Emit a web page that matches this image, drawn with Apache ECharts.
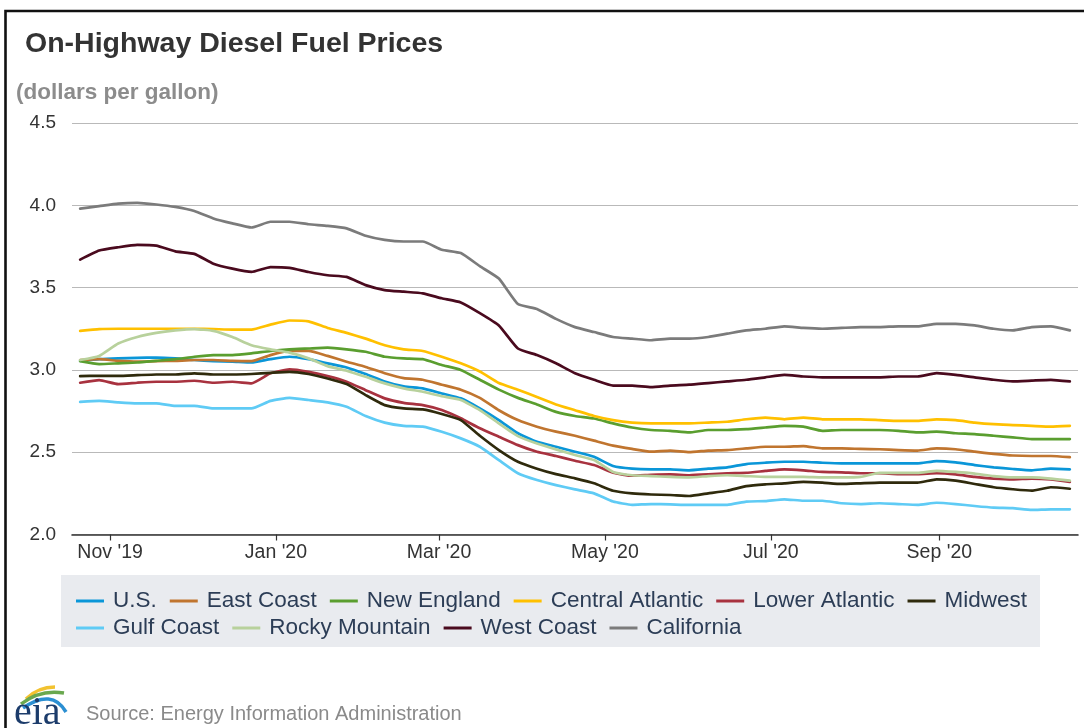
<!DOCTYPE html>
<html>
<head>
<meta charset="utf-8">
<script src="https://cdn.jsdelivr.net/npm/echarts@6/dist/echarts.min.js"></script>
<style>
html,body{margin:0;padding:0;background:#fff;}
#chart{width:1084px;height:728px;}
</style>
</head>
<body>
<div id="chart"></div>
<script>
// ---- data (weekly, dollars per gallon) ----
const dates = ['2019-10-21','2019-10-28','2019-11-04','2019-11-11','2019-11-18','2019-11-25','2019-12-02','2019-12-09','2019-12-16','2019-12-23','2019-12-30',
'2020-01-06','2020-01-13','2020-01-20','2020-01-27','2020-02-03','2020-02-10','2020-02-17','2020-02-24','2020-03-02','2020-03-09','2020-03-16','2020-03-23','2020-03-30',
'2020-04-06','2020-04-13','2020-04-20','2020-04-27','2020-05-04','2020-05-11','2020-05-18','2020-05-25','2020-06-01','2020-06-08','2020-06-15','2020-06-22','2020-06-29',
'2020-07-06','2020-07-13','2020-07-20','2020-07-27','2020-08-03','2020-08-10','2020-08-17','2020-08-24','2020-08-31','2020-09-07','2020-09-14','2020-09-21','2020-09-28',
'2020-10-05','2020-10-12','2020-10-19'];

const us = [3.055,3.065,3.07,3.073,3.075,3.07,3.06,3.053,3.05,3.045,3.065,3.08,3.065,3.04,3.015,2.975,2.93,2.90,2.888,2.857,2.827,2.766,2.695,2.615,2.563,2.533,2.503,2.472,2.416,2.40,2.396,2.396,2.39,2.40,2.408,2.428,2.436,2.442,2.442,2.436,2.432,2.432,2.432,2.432,2.432,2.446,2.438,2.422,2.408,2.398,2.39,2.40,2.396];
const eastCoast = [3.06,3.065,3.055,3.05,3.053,3.055,3.06,3.06,3.055,3.053,3.09,3.115,3.115,3.085,3.05,3.018,2.98,2.95,2.94,2.91,2.88,2.83,2.755,2.695,2.655,2.625,2.60,2.57,2.54,2.52,2.503,2.51,2.50,2.51,2.513,2.523,2.533,2.533,2.537,2.523,2.523,2.52,2.518,2.513,2.51,2.523,2.518,2.503,2.49,2.48,2.477,2.477,2.47];
const newEngland = [3.053,3.035,3.04,3.045,3.055,3.065,3.08,3.09,3.09,3.10,3.115,3.125,3.13,3.135,3.125,3.11,3.08,3.07,3.065,3.03,3.00,2.94,2.88,2.83,2.79,2.745,2.72,2.705,2.675,2.65,2.635,2.63,2.62,2.635,2.635,2.64,2.65,2.66,2.655,2.63,2.635,2.635,2.635,2.63,2.62,2.625,2.615,2.61,2.60,2.59,2.58,2.58,2.58];
const centralAtlantic = [3.237,3.248,3.25,3.25,3.25,3.25,3.25,3.248,3.245,3.245,3.275,3.30,3.295,3.255,3.225,3.19,3.15,3.125,3.115,3.08,3.04,2.99,2.92,2.88,2.835,2.79,2.755,2.72,2.695,2.68,2.675,2.675,2.675,2.68,2.685,2.70,2.71,2.70,2.71,2.70,2.70,2.70,2.695,2.69,2.69,2.70,2.695,2.68,2.67,2.665,2.66,2.655,2.66];
const lowerAtlantic = [2.922,2.938,2.914,2.922,2.928,2.928,2.934,2.922,2.928,2.918,2.979,3.003,2.988,2.962,2.928,2.877,2.827,2.80,2.786,2.756,2.706,2.645,2.594,2.543,2.503,2.477,2.448,2.422,2.375,2.357,2.362,2.365,2.36,2.365,2.372,2.375,2.386,2.396,2.39,2.38,2.378,2.372,2.372,2.367,2.367,2.372,2.365,2.35,2.34,2.335,2.34,2.335,2.32];
const midwest = [2.962,2.964,2.964,2.968,2.972,2.972,2.979,2.972,2.972,2.975,2.982,2.988,2.975,2.948,2.914,2.847,2.786,2.766,2.76,2.732,2.695,2.60,2.513,2.442,2.40,2.367,2.341,2.311,2.266,2.25,2.243,2.24,2.234,2.25,2.266,2.294,2.305,2.311,2.32,2.315,2.307,2.311,2.315,2.315,2.315,2.335,2.327,2.307,2.287,2.275,2.266,2.287,2.278];
const gulfCoast = [2.806,2.812,2.803,2.797,2.797,2.782,2.782,2.766,2.766,2.766,2.812,2.83,2.817,2.803,2.776,2.72,2.68,2.66,2.655,2.624,2.584,2.533,2.452,2.372,2.331,2.30,2.274,2.25,2.20,2.18,2.185,2.183,2.18,2.18,2.18,2.20,2.203,2.214,2.205,2.205,2.19,2.185,2.19,2.185,2.18,2.193,2.185,2.173,2.163,2.16,2.149,2.153,2.153];
const rockyMountain = [3.06,3.085,3.16,3.20,3.225,3.24,3.248,3.237,3.20,3.15,3.125,3.105,3.07,3.023,2.995,2.958,2.918,2.888,2.867,2.84,2.817,2.756,2.675,2.598,2.553,2.517,2.483,2.452,2.38,2.36,2.355,2.35,2.347,2.355,2.36,2.355,2.35,2.35,2.35,2.347,2.347,2.35,2.375,2.375,2.375,2.387,2.38,2.37,2.355,2.347,2.347,2.34,2.327];
const westCoast = [3.67,3.725,3.745,3.76,3.755,3.72,3.705,3.645,3.615,3.595,3.625,3.62,3.595,3.575,3.565,3.515,3.485,3.475,3.465,3.435,3.41,3.345,3.27,3.13,3.09,3.04,2.98,2.94,2.905,2.905,2.895,2.905,2.91,2.92,2.93,2.94,2.955,2.97,2.96,2.955,2.955,2.955,2.955,2.96,2.96,2.98,2.97,2.955,2.94,2.93,2.935,2.94,2.93];
const california = [3.98,3.995,4.01,4.015,4.005,3.99,3.965,3.92,3.89,3.865,3.90,3.90,3.885,3.875,3.86,3.815,3.79,3.78,3.78,3.73,3.71,3.63,3.555,3.40,3.37,3.31,3.26,3.23,3.20,3.19,3.18,3.19,3.19,3.20,3.22,3.24,3.25,3.265,3.255,3.25,3.255,3.26,3.26,3.265,3.265,3.28,3.28,3.27,3.25,3.24,3.26,3.265,3.24];

const seriesNames = ['U.S.','East Coast','New England','Central Atlantic','Lower Atlantic','Midwest','Gulf Coast','Rocky Mountain','West Coast','California'];
const seriesValues = [us, eastCoast, newEngland, centralAtlantic, lowerAtlantic, midwest, gulfCoast, rockyMountain, westCoast, california];
const seriesColors = ['#0a96d8','#c0752f','#5a9e2f','#ffc000','#a8323f','#2f2a0c','#5fcbf5','#b8d19c','#4a0a1e','#7b7b7b'];

const tickDates = ['2019-11-01','2020-01-01','2020-03-01','2020-05-01','2020-07-01','2020-09-01'];
const tickLabels = ["Nov '19","Jan '20","Mar '20","May '20","Jul '20","Sep '20"];
const yTicks = [2.0, 2.5, 3.0, 3.5, 4.0, 4.5];
const axisStart = '2019-10-18';
const axisEnd = '2020-10-22';

// ---- helpers ----
function ts(d){ const p = d.split('-').map(Number); return Date.UTC(p[0], p[1]-1, p[2]); }
const tickTs = tickDates.map(ts);
const labelMap = {}; tickTs.forEach((t,i)=>{ labelMap[t] = tickLabels[i]; });

const FONT = '"Liberation Sans", Arial, Helvetica, sans-serif';

const series = seriesNames.map((name, i) => ({
  name: name,
  type: 'line',
  data: dates.map((d, j) => [ts(d), seriesValues[i][j]]),
  showSymbol: false,
  symbol: 'none',
  smooth: 0.15,
  lineStyle: { width: 2.7, color: seriesColors[i], cap: 'round', join: 'round' },
  itemStyle: { color: seriesColors[i] },
  z: 2
}));

const legendCommon = {
  orient: 'horizontal',
  icon: 'rect',
  itemWidth: 28,
  itemHeight: 3,
  itemGap: 13,
  padding: 0,
  textStyle: { fontFamily: FONT, fontSize: 22.5, color: '#2c3d56', lineHeight: 22, padding: [0,0,0,4] }
};

const chart = echarts.init(document.getElementById('chart'), null, { renderer: 'canvas' });
chart.setOption({
  animation: false,
  backgroundColor: '#ffffff',
  grid: { left: 72, right: 6, top: 123, bottom: 193.5 },
  xAxis: {
    type: 'value',
    min: ts(axisStart),
    max: ts(axisEnd),
    splitLine: { show: false },
    axisLine: { show: true, lineStyle: { color: '#333333', width: 1.6 } },
    axisTick: { show: true, customValues: tickTs, length: 6, lineStyle: { color: '#333333', width: 1.2 } },
    axisLabel: {
      customValues: tickTs,
      margin: 8,
      fontFamily: FONT, fontSize: 19.5, color: '#333333',
      formatter: v => labelMap[v] || ''
    }
  },
  yAxis: {
    type: 'value',
    min: 2.0, max: 4.5, interval: 0.5,
    axisLine: { show: false },
    axisTick: { show: false },
    splitLine: { show: true, lineStyle: { color: '#b9b9b9', width: 1.2 } },
    axisLabel: {
      margin: 16,
      fontFamily: FONT, fontSize: 19, color: '#333333',
      formatter: v => yTicks.indexOf(v) >= 0 ? v.toFixed(1) : ''
    }
  },
  legend: [
    Object.assign({}, legendCommon, { left: 76, top: 589.5, data: seriesNames.slice(0, 6) }),
    Object.assign({}, legendCommon, { left: 76, top: 616.5, data: seriesNames.slice(6) })
  ],
  graphic: [
    { type: 'rect', z: -1, shape: { x: 61, y: 575, width: 979, height: 72 }, style: { fill: '#e9ebef' }, silent: true },
    { type: 'polyline', z: 10, shape: { points: [[5.5, 728], [5.5, 11], [1084, 11]] }, style: { stroke: '#111111', lineWidth: 2.6, fill: null } },
    { type: 'text', z: 10, style: { text: 'On-Highway Diesel Fuel Prices', x: 25, y: 44, fill: '#333333', font: 'bold 28.5px ' + FONT, textAlign: 'left', textVerticalAlign: 'middle' } },
    { type: 'text', z: 10, style: { text: '(dollars per gallon)', x: 16, y: 93, fill: '#8c8c8c', font: 'bold 22.5px ' + FONT, textAlign: 'left', textVerticalAlign: 'middle' } },
    { type: 'text', z: 10, style: { text: 'Source: Energy Information Administration', x: 86, y: 714, fill: '#8a8a8a', font: '20px ' + FONT, textAlign: 'left', textVerticalAlign: 'middle' } },
    // eia logo
    { type: 'bezierCurve', z: 10, shape: { x1: 26, y1: 699, x2: 55, y2: 687, cpx1: 38, cpy1: 687 }, style: { stroke: '#f2c230', lineWidth: 3.5, fill: null } },
    { type: 'bezierCurve', z: 10, shape: { x1: 21, y1: 704, x2: 64, y2: 693, cpx1: 40, cpy1: 689 }, style: { stroke: '#6aa84f', lineWidth: 3.5, fill: null } },
    { type: 'bezierCurve', z: 10, shape: { x1: 23, y1: 708, x2: 66, y2: 712, cpx1: 52, cpy1: 688 }, style: { stroke: '#2b8fd2', lineWidth: 3.5, fill: null } },
    { type: 'text', z: 11, style: { text: 'eia', x: 14, y: 713, fill: '#1c3c6b', font: '40px "Liberation Serif", "Times New Roman", serif', textAlign: 'left', textVerticalAlign: 'middle' } }
  ],
  series: series
});
</script>
</body>
</html>
